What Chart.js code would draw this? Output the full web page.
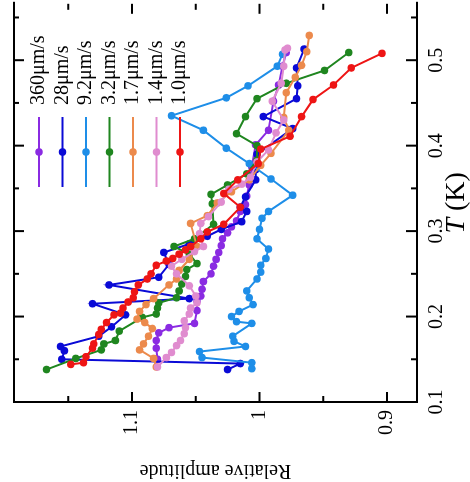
<!DOCTYPE html>
<html lang="en">
<head>
  <meta charset="UTF-8" />
  <title>Relative amplitude vs T</title>
  <script src="https://cdn.jsdelivr.net/npm/chart.js"></script>
  <style>
    body {
      margin: 0;
      background: #fff;
      overflow: hidden;
    }

    /* the chart is drawn upright and then turned a quarter turn to the left */
    #wrap {
      position: absolute;
      left: 0;
      top: 0;
      width: 482px;
      height: 470px;
      transform-origin: 0 0;
      transform: translateY(482px) rotate(-90deg);
    }

    #myChart {
      display: block;
    }
  </style>
</head>
<body>
  <div id="wrap"><canvas id="myChart" width="482" height="470"></canvas></div>

  <script>
    const seriesLabels = ['360μm/s', '28μm/s', '9.2μm/s', '3.2μm/s', '1.7μm/s', '1.4μm/s', '1.0μm/s'];
    const seriesColors = ['#8a2be2', '#0a0ad6', '#1e8ee8', '#1f861f', '#ec8a4c', '#e08ccf', '#ee1515'];

    // T (K) and relative amplitude for each sweep speed
    const t360 = [0.150, 0.163, 0.172, 0.181, 0.187, 0.192, 0.207, 0.218, 0.224, 0.232, 0.241, 0.250, 0.259, 0.267, 0.275, 0.283, 0.291, 0.298, 0.305, 0.312, 0.323, 0.331, 0.341, 0.354, 0.375, 0.401, 0.418, 0.452, 0.471, 0.493, 0.509];
    const a360 = [1.080, 1.081, 1.081, 1.079, 1.071, 1.051, 1.049, 1.049, 1.046, 1.045, 1.044, 1.038, 1.036, 1.034, 1.032, 1.030, 1.029, 1.025, 1.022, 1.018, 1.015, 1.011, 1.010, 1.008, 1.006, 1.003, 0.993, 0.989, 0.985, 0.982, 0.979];

    const t28 = [0.138, 0.145, 0.150, 0.160, 0.165, 0.177, 0.188, 0.202, 0.215, 0.221, 0.237, 0.246, 0.261, 0.275, 0.285, 0.294, 0.302, 0.311, 0.323, 0.328, 0.340, 0.360, 0.372, 0.390, 0.420, 0.434, 0.455, 0.470, 0.491, 0.513];
    const a28 = [1.025, 1.015, 1.155, 1.153, 1.156, 1.126, 1.116, 1.105, 1.131, 1.055, 1.118, 1.079, 1.071, 1.075, 1.055, 1.041, 1.030, 1.014, 1.010, 1.015, 1.011, 1.003, 1.003, 1.002, 0.974, 0.997, 0.971, 0.970, 0.971, 0.965];

    const t9_2 = [0.139, 0.146, 0.152, 0.159, 0.165, 0.171, 0.177, 0.192, 0.194, 0.200, 0.206, 0.214, 0.222, 0.230, 0.244, 0.252, 0.260, 0.268, 0.279, 0.291, 0.302, 0.315, 0.323, 0.342, 0.361, 0.379, 0.397, 0.418, 0.435, 0.456, 0.470, 0.493, 0.507];
    const a9_2 = [1.006, 1.006, 1.045, 1.047, 1.011, 1.020, 1.021, 1.006, 1.018, 1.022, 1.016, 1.005, 1.008, 1.010, 1.002, 0.999, 0.999, 0.995, 0.993, 1.002, 1.000, 0.998, 0.993, 0.974, 0.991, 1.008, 1.026, 1.044, 1.069, 1.026, 1.009, 0.986, 0.982];

    const t3_2 = [0.138, 0.151, 0.161, 0.168, 0.172, 0.183, 0.199, 0.203, 0.210, 0.216, 0.222, 0.230, 0.238, 0.247, 0.255, 0.262, 0.273, 0.282, 0.291, 0.308, 0.332, 0.343, 0.354, 0.367, 0.383, 0.400, 0.414, 0.434, 0.455, 0.473, 0.488, 0.509];
    const a3_2 = [1.167, 1.144, 1.124, 1.122, 1.113, 1.110, 1.092, 1.081, 1.080, 1.079, 1.065, 1.063, 1.061, 1.058, 1.057, 1.049, 1.055, 1.067, 1.051, 1.036, 1.037, 1.038, 1.025, 1.010, 1.002, 1.002, 1.018, 1.011, 1.002, 0.979, 0.949, 0.930];

    const t1_7 = [0.141, 0.151, 0.161, 0.168, 0.177, 0.186, 0.193, 0.197, 0.206, 0.214, 0.221, 0.237, 0.244, 0.254, 0.267, 0.282, 0.309, 0.318, 0.333, 0.346, 0.360, 0.377, 0.391, 0.418, 0.433, 0.462, 0.480, 0.494, 0.510, 0.529];
    const a1_7 = [1.081, 1.083, 1.094, 1.091, 1.087, 1.084, 1.090, 1.096, 1.094, 1.089, 1.083, 1.071, 1.065, 1.063, 1.055, 1.049, 1.054, 1.041, 1.033, 1.022, 1.008, 0.999, 0.991, 0.977, 0.981, 0.979, 0.972, 0.967, 0.963, 0.961];

    const t1_4 = [0.141, 0.152, 0.158, 0.166, 0.172, 0.180, 0.187, 0.195, 0.203, 0.210, 0.216, 0.224, 0.236, 0.250, 0.259, 0.267, 0.276, 0.282, 0.297, 0.309, 0.317, 0.334, 0.349, 0.355, 0.363, 0.381, 0.395, 0.415, 0.430, 0.452, 0.473, 0.493, 0.512, 0.514];
    const a1_4 = [1.080, 1.073, 1.069, 1.065, 1.062, 1.059, 1.058, 1.059, 1.055, 1.054, 1.049, 1.050, 1.055, 1.065, 1.069, 1.061, 1.051, 1.044, 1.047, 1.046, 1.040, 1.030, 1.024, 1.014, 1.007, 1.002, 0.993, 0.987, 0.981, 0.990, 0.983, 0.981, 0.980, 0.978];

    const t1_0 = [0.144, 0.146, 0.153, 0.163, 0.168, 0.179, 0.185, 0.193, 0.202, 0.204, 0.210, 0.217, 0.222, 0.229, 0.237, 0.244, 0.250, 0.260, 0.265, 0.268, 0.273, 0.278, 0.282, 0.291, 0.299, 0.308, 0.328, 0.344, 0.360, 0.379, 0.396, 0.411, 0.434, 0.454, 0.471, 0.491, 0.508];
    const a1_0 = [1.148, 1.138, 1.136, 1.131, 1.130, 1.126, 1.124, 1.120, 1.114, 1.109, 1.107, 1.103, 1.099, 1.098, 1.095, 1.088, 1.085, 1.081, 1.073, 1.068, 1.063, 1.058, 1.054, 1.046, 1.041, 1.028, 1.015, 1.028, 1.017, 1.001, 0.999, 0.976, 0.967, 0.958, 0.942, 0.928, 0.904];

    const tMajor = [0.1, 0.2, 0.3, 0.4, 0.5];
    const tMinor = [0.15, 0.25, 0.35, 0.45, 0.55];
    const tTickLabels = ['0.1', '0.2', '0.3', '0.4', '0.5'];
    const aMajor = [0.9, 1.0, 1.1];
    const aMinor = [0.95, 1.05, 1.15];
    const aTickLabels = ['0.9', '1', '1.1'];

    const tSeries = [t360, t28, t9_2, t3_2, t1_7, t1_4, t1_0];
    const aSeries = [a360, a28, a9_2, a3_2, a1_7, a1_4, a1_0];

    const serif = "'Liberation Serif', 'Times New Roman', serif";

    // red drawn on top, purple at the bottom
    const drawOrder = [6, 5, 4, 3, 2, 1, 0];
    const datasets = drawOrder.map(i => ({
      label: seriesLabels[i],
      data: tSeries[i].map((t, k) => ({ x: t, y: aSeries[i][k] })),
      showLine: true,
      borderColor: seriesColors[i],
      backgroundColor: seriesColors[i],
      borderWidth: 2,
      pointRadius: 3.8,
      pointBorderWidth: 0,
      pointHoverRadius: 3.8
    }));

    // box frame with inward ticks on all sides
    const frameTicks = {
      id: 'frameTicks',
      afterDraw(chart) {
        const { ctx, chartArea: a, scales: { x, y } } = chart;
        const line = (x1, y1, x2, y2) => { ctx.moveTo(x1, y1); ctx.lineTo(x2, y2); };
        ctx.save();
        ctx.strokeStyle = '#000';
        ctx.lineWidth = 2;
        ctx.beginPath();
        ctx.moveTo(a.right + 2, a.top);
        ctx.lineTo(a.left, a.top);
        ctx.lineTo(a.left, a.bottom);
        ctx.lineTo(a.right + 2, a.bottom);
        tMajor.forEach(v => {
          const p = x.getPixelForValue(v);
          line(p, a.bottom, p, a.bottom - 11);
          line(p, a.top, p, a.top + 10);
        });
        tMinor.forEach(v => {
          const p = x.getPixelForValue(v);
          line(p, a.bottom, p, a.bottom - 6);
          line(p, a.top, p, a.top + 5);
        });
        aMajor.forEach(v => {
          const p = y.getPixelForValue(v);
          line(a.left, p, a.left + 10, p);
          line(a.right, p, a.right - 10, p);
        });
        aMinor.forEach(v => {
          const p = y.getPixelForValue(v);
          line(a.left, p, a.left + 6, p);
          line(a.right, p, a.right - 6, p);
        });
        ctx.stroke();

        // x title with italic T
        const cx = (a.left + a.right) / 2;
        ctx.fillStyle = '#000';
        ctx.textBaseline = 'alphabetic';
        ctx.font = 'italic 28px ' + serif;
        const wT = ctx.measureText('T').width;
        ctx.font = '28px ' + serif;
        const wK = ctx.measureText(' (K)').width;
        const x0 = cx - (wT + wK) / 2;
        ctx.font = 'italic 28px ' + serif;
        ctx.textAlign = 'left';
        ctx.fillText('T', x0, 464);
        ctx.font = '28px ' + serif;
        ctx.fillText(' (K)', x0 + wT, 464);
        ctx.restore();
      }
    };

    // legend: line through a dot, label to the right
    const lineLegend = {
      id: 'lineLegend',
      afterDraw(chart) {
        const { ctx } = chart;
        ctx.save();
        ctx.font = '20px ' + serif;
        ctx.textAlign = 'left';
        ctx.textBaseline = 'middle';
        seriesLabels.forEach((lab, i) => {
          const yy = 39 + i * 23.5;
          ctx.strokeStyle = seriesColors[i];
          ctx.fillStyle = seriesColors[i];
          ctx.lineWidth = 2;
          ctx.beginPath();
          ctx.moveTo(295, yy);
          ctx.lineTo(365, yy);
          ctx.stroke();
          ctx.beginPath();
          ctx.arc(330, yy, 3.8, 0, Math.PI * 2);
          ctx.fill();
          ctx.fillStyle = '#000';
          ctx.fillText(lab, 377, yy);
        });
        ctx.restore();
      }
    };

    const ctx = document.getElementById('myChart').getContext('2d');
    new Chart(ctx, {
      type: 'scatter',
      data: { datasets: datasets },
      options: {
        responsive: false,
        animation: false,
        layout: { padding: { top: 14, right: 0, bottom: 0, left: 0 } },
        scales: {
          x: {
            type: 'linear',
            min: 0.1,
            max: 0.566,
            afterBuildTicks: s => { s.ticks = tMajor.map(v => ({ value: v })); },
            afterFit: s => { s.height = 53; s.paddingLeft = 0; s.paddingRight = 0; },
            grid: { display: false, drawTicks: false },
            border: { display: false },
            ticks: {
              color: '#000',
              padding: 8,
              maxRotation: 0,
              font: { family: serif, size: 20 },
              callback: (v, i) => tTickLabels[i]
            }
          },
          y: {
            type: 'linear',
            min: 0.8765,
            max: 1.1925,
            afterBuildTicks: s => { s.ticks = aMajor.map(v => ({ value: v })); },
            afterFit: s => { s.width = 80; s.paddingTop = 0; s.paddingBottom = 0; },
            grid: { display: false, drawTicks: false },
            border: { display: false },
            ticks: {
              color: '#000',
              padding: 8,
              font: { family: serif, size: 20 },
              callback: (v, i) => aTickLabels[i]
            },
            title: {
              display: true,
              text: 'Relative amplitude',
              color: '#000',
              padding: 0,
              font: { family: serif, size: 20, lineHeight: 1.15 }
            }
          }
        },
        plugins: {
          legend: { display: false },
          tooltip: { enabled: false }
        }
      },
      plugins: [frameTicks, lineLegend]
    });
  </script>
</body>
</html>
